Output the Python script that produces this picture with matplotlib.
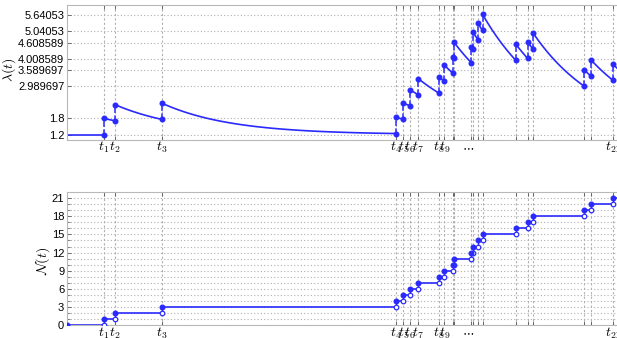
import numpy as np
import matplotlib
matplotlib.use("Agg")
import matplotlib.pyplot as plt

plt.rcParams['mathtext.fontset'] = 'cm'
plt.rcParams['font.family'] = ['Liberation Sans', 'DejaVu Sans']

# event times (one unit ~ 10 px)
event_times = [3.7, 4.8, 9.5, 32.85, 33.63, 34.3, 35.13, 37.15, 37.73, 38.57, 38.65,
               40.43, 40.6, 41.1, 41.55, 44.87, 46.07, 46.63, 51.7, 52.4, 54.57]
mu = 1.2        # baseline intensity
alpha = 0.6     # jump size
beta = 0.145    # decay rate
t_end = 57.3

lam_ticks = [1.2, 1.8, 2.989697, 3.589697, 4.008589, 4.608589, 5.04053, 5.64053]
lam_ticklabels = ['1.2', '1.8', '2.989697', '3.589697', '4.008589', '4.608589', '5.04053', '5.64053']
n_ticks = [0, 3, 6, 9, 12, 15, 18, 21]
x_labels = {0: '$t_1$', 1: '$t_2$', 2: '$t_3$', 3: '$t_4$', 4: '$t_5$', 5: '$t_6$',
            6: '$t_7$', 7: '$t_8$', 8: '$t_9$', 20: '$t_{21}$'}

BLUE = '#2a2aff'
GRID = '#b0b0b0'


def intensity(t, history):
    h = np.array(history)
    if len(h) == 0:
        return mu + 0 * t
    return mu + alpha * np.exp(-beta * (t[:, None] - h[None, :])).sum(axis=1)


def style_axes(ax):
    ax.set_xlim(0, t_end)
    ax.set_xticks(event_times)
    ax.set_xticklabels([x_labels.get(i, '') for i in range(len(event_times))])
    ax.tick_params(direction='in', top=True, right=True, length=3, width=0.6,
                   color='#555555', labelsize=8, pad=2)
    ax.tick_params(axis='x', labelsize=10, pad=0)
    for s in ax.spines.values():
        s.set_color('#b8b8b8')
        s.set_linewidth(0.8)
    ax.text(40.1, -0.05, r'$\cdots$', transform=ax.get_xaxis_transform(),
            ha='center', va='center', fontsize=9)


fig = plt.figure(figsize=(6.17, 3.38), dpi=100)
ax1 = fig.add_axes([0.1086, 0.5858, 0.9287, 0.3994])
ax2 = fig.add_axes([0.1086, 0.0376, 0.9287, 0.3944])

# ---- intensity ----
ax1.set_ylim(1.0, 6.0)
ax1.set_yticks(lam_ticks)
ax1.set_yticklabels(lam_ticklabels)
for y in lam_ticks:
    ax1.axhline(y, color=GRID, ls=(0, (1, 2)), lw=0.8, zorder=0)
for t in event_times:
    ax1.axvline(t, color=GRID, ls=(0, (2, 2)), lw=0.8, zorder=0)

ax1.plot([0, event_times[0]], [mu, mu], color=BLUE, lw=1.2)
bounds = event_times + [t_end]
for i, ti in enumerate(event_times):
    pre = intensity(np.array([ti]), event_times[:i])[0]
    post = pre + alpha
    ax1.plot([ti, ti], [pre, post], color=BLUE, lw=1.1, ls='--')
    ax1.plot([ti, ti], [pre, post], 'o', color=BLUE, ms=3.3)
    tt = np.linspace(ti, bounds[i + 1], 60)
    ax1.plot(tt, intensity(tt, event_times[:i + 1]), color=BLUE, lw=1.2)
ax1.set_ylabel(r'$\lambda(t)$', fontsize=10)
ax1.yaxis.set_label_coords(-0.086, 0.52)
style_axes(ax1)

# ---- counting process ----
ax2.set_ylim(0, 22)
ax2.set_yticks(n_ticks)
ax2.set_yticks(range(0, 22), minor=True)
ax2.tick_params(which='minor', direction='in', left=True, right=True, length=2,
                width=0.5, color='#555555')
for y in range(0, 22):
    ax2.axhline(y, color=GRID, ls=(0, (1, 2)), lw=0.8, zorder=0)
for t in event_times:
    ax2.axvline(t, color=GRID, ls=(0, (2, 2)), lw=0.8, zorder=0)

starts = [0] + event_times
for n, t0 in enumerate(starts):
    t1 = bounds[n]
    ax2.plot([t0, t1], [n, n], color=BLUE, lw=1.2)
    ax2.plot(t0, n, 'o', color=BLUE, ms=3.3, zorder=4)
    if n < len(event_times):
        ax2.plot([t1, t1], [n, n + 1], color=BLUE, lw=0.9, ls='--')
        ax2.plot(t1, n, 'o', mfc='white', mec=BLUE, mew=0.9, ms=3.3, zorder=3)
ax2.set_ylabel(r'$\mathcal{N}(t)$', fontsize=10)
ax2.yaxis.set_label_coords(-0.026, 0.48)
style_axes(ax2)

fig.savefig('out.png', dpi=100)
